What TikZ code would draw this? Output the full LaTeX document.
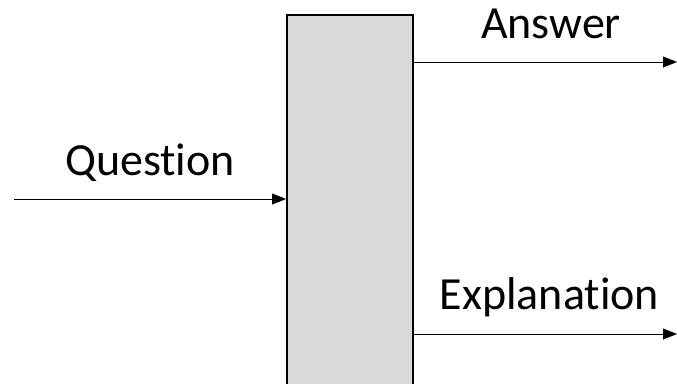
\documentclass[tikz,border=0pt]{standalone}
\usepackage{fontspec}
\setmainfont[Ligatures={NoCommon}]{Carlito}
\usetikzlibrary{arrows.meta}
\begin{document}
\begin{tikzpicture}[x=1pt,y=-1pt,
  blockbox/.style={draw=black,line width=1.8pt,fill=black!15,minimum width=126pt,minimum height=380pt,inner sep=0pt,anchor=north west},
  flow/.style={line width=1pt,-{Triangle[length=14pt,width=11pt]}},
  lbl/.style={anchor=base,font=\fontsize{46}{52}\selectfont,inner sep=0pt}]
\useasboundingbox (0,0) rectangle (677,383);
\node[blockbox] (box) at (286,14) {};
\coordinate (qin) at (14,199);
\coordinate (aout) at (677,62);
\coordinate (eout) at (677,334);
\draw[flow] (qin) -- (qin -| box.west);
\draw[flow] (aout -| box.east) -- (aout);
\draw[flow] (eout -| box.east) -- (eout);
\node[lbl] (qlabel) at (150,175) {Question};
\node[lbl] (alabel) at (551,38) {Answer};
\node[lbl] (elabel) at (549.5,309) {Explanation};
\end{tikzpicture}
\end{document}
